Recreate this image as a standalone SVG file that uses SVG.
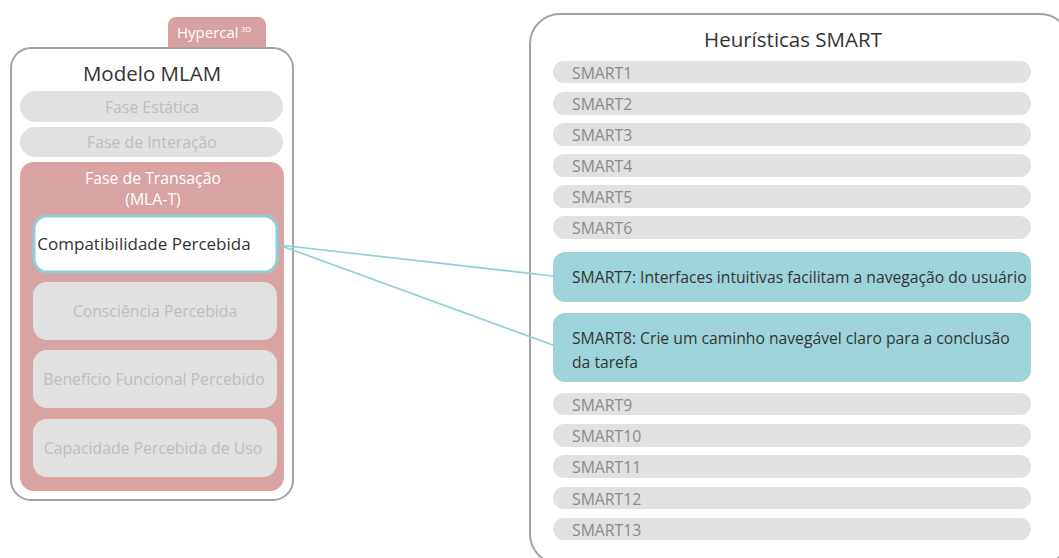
<svg xmlns="http://www.w3.org/2000/svg" width="1059" height="558" viewBox="0 0 1059 558">
<style>
text{font-family:"Open Sans","Noto Sans","Liberation Sans",sans-serif}
.frame{fill:#fff;stroke:#a3a3a3;stroke-width:2}
.pill{fill:#e1e1e1}
.pl{font-size:15.8px;fill:#bdbdbd;text-anchor:middle}
.sm{font-size:15.8px;fill:#8a8a8a}
.hl{fill:#9dd4d9}
.ht{font-size:15.7px;fill:#333}
.title{font-size:20.5px;fill:#333;text-anchor:middle}
.con{stroke:#8dcfd5;stroke-width:1.6;fill:none}
</style>
<g id="hypercal">
<path d="M168,48 V25 a8,8 0 0 1 8,-8 H258 a8,8 0 0 1 8,8 V48 Z" fill="#d9a0a1"/>
<text x="177" y="38" font-size="15" fill="#fff">Hypercal<tspan font-size="8" dy="-6" dx="2">3D</tspan></text>
</g>
<g id="mlam">
<rect class="frame" x="11" y="48" width="282" height="452" rx="20"/>
<text class="title" x="152" y="81">Modelo MLAM</text>
</g>
<g id="fase-estatica">
<rect class="pill" x="20" y="91" width="263" height="31" rx="15.5"/>
<text class="pl" x="152" y="113">Fase Estática</text>
</g>
<g id="fase-interacao">
<rect class="pill" x="20" y="127" width="263" height="30" rx="15"/>
<text class="pl" x="152" y="148">Fase de Interação</text>
</g>
<g id="fase-transacao">
<rect x="20" y="162" width="264" height="329" rx="14" fill="#d9a3a3"/>
<text x="153" y="184" font-size="15.8" fill="#fff" text-anchor="middle">Fase de Transação</text>
<text x="153" y="205" font-size="15.8" fill="#fff" text-anchor="middle">(MLA-T)</text>
</g>
<g id="compatibilidade">
<rect x="34" y="216" width="243" height="56" rx="13" fill="#fff" stroke="#8dcfd5" stroke-width="3"/>
<text x="144" y="250" font-size="17" fill="#333" text-anchor="middle">Compatibilidade Percebida</text>
</g>
<g id="consciencia">
<rect class="pill" x="33" y="282" width="244" height="58" rx="14"/>
<text class="pl" x="155" y="317">Consciência Percebida</text>
</g>
<g id="beneficio">
<rect class="pill" x="33" y="350" width="244" height="58" rx="14"/>
<text class="pl" x="154" y="385">Benefício Funcional Percebido</text>
</g>
<g id="capacidade">
<rect class="pill" x="33" y="419" width="244" height="58" rx="14"/>
<text class="pl" x="153" y="454">Capacidade Percebida de Uso</text>
</g>
<g id="smart">
<rect class="frame" x="530" y="14" width="540" height="550" rx="30"/>
<text class="title" x="793" y="47">Heurísticas SMART</text>
</g>
<g id="smart1"><rect class="pill" x="553" y="61" width="478" height="22" rx="11"/><text class="sm" x="572" y="79">SMART1</text></g>
<g id="smart2"><rect class="pill" x="553" y="92" width="478" height="23" rx="11.5"/><text class="sm" x="572" y="110">SMART2</text></g>
<g id="smart3"><rect class="pill" x="553" y="123" width="478" height="23" rx="11.5"/><text class="sm" x="572" y="141">SMART3</text></g>
<g id="smart4"><rect class="pill" x="553" y="154" width="478" height="23" rx="11.5"/><text class="sm" x="572" y="172">SMART4</text></g>
<g id="smart5"><rect class="pill" x="553" y="185" width="478" height="23" rx="11.5"/><text class="sm" x="572" y="203">SMART5</text></g>
<g id="smart6"><rect class="pill" x="553" y="216" width="478" height="23" rx="11.5"/><text class="sm" x="572" y="234">SMART6</text></g>
<g id="smart7"><rect class="hl" x="553" y="252" width="478" height="50" rx="12"/><text class="ht" x="572" y="283">SMART7: Interfaces intuitivas facilitam a navegação do usuário</text></g>
<g id="smart8"><rect class="hl" x="553" y="313" width="478" height="69" rx="12"/><text class="ht" x="572" y="344">SMART8: Crie um caminho navegável claro para a conclusão</text><text class="ht" x="572" y="368">da tarefa</text></g>
<g id="smart9"><rect class="pill" x="553" y="393" width="478" height="22" rx="11"/><text class="sm" x="572" y="411">SMART9</text></g>
<g id="smart10"><rect class="pill" x="553" y="424" width="478" height="23" rx="11.5"/><text class="sm" x="572" y="442">SMART10</text></g>
<g id="smart11"><rect class="pill" x="553" y="455" width="478" height="23" rx="11.5"/><text class="sm" x="572" y="473">SMART11</text></g>
<g id="smart12"><rect class="pill" x="553" y="487" width="478" height="22" rx="11"/><text class="sm" x="572" y="505">SMART12</text></g>
<g id="smart13"><rect class="pill" x="553" y="518" width="478" height="22" rx="11"/><text class="sm" x="572" y="536">SMART13</text></g>
<g id="connectors">
<path class="con" d="M279,245 L553,276"/>
<path class="con" d="M279,245 L553,345"/>
</g>
</svg>
